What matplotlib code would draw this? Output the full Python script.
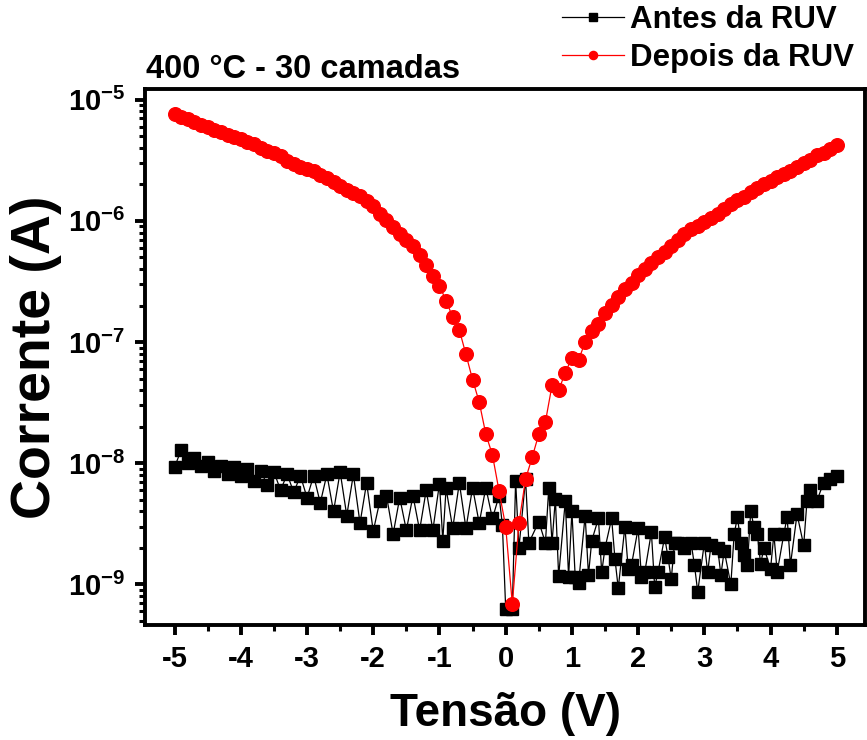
import numpy as np
import matplotlib
matplotlib.use("Agg")
import matplotlib.pyplot as plt
from matplotlib.ticker import FixedLocator, FixedFormatter, LogLocator, NullFormatter, MultipleLocator

plt.rcParams['font.family'] = ['Liberation Sans', 'DejaVu Sans']
plt.rcParams['font.weight'] = 'bold'
plt.rcParams['axes.unicode_minus'] = False
plt.rcParams['mathtext.fontset'] = 'custom'
plt.rcParams['mathtext.rm'] = 'Liberation Sans:bold'
plt.rcParams['mathtext.bf'] = 'Liberation Sans:bold'

# Depois da RUV (after UV), sweep -5 .. 5 V in 0.1 V steps
depois_v = np.round(np.linspace(-5, 5, 101), 2)
depois_i = [
    7.6e-6, 7.2e-6, 6.9e-6, 6.5e-6, 6.2e-6, 5.9e-6, 5.6e-6, 5.4e-6, 5.1e-6, 4.9e-6,
    4.7e-6, 4.5e-6, 4.3e-6, 4.0e-6, 3.8e-6, 3.6e-6, 3.4e-6, 3.1e-6, 2.95e-6, 2.8e-6,
    2.7e-6, 2.6e-6, 2.4e-6, 2.25e-6, 2.1e-6, 1.95e-6, 1.8e-6, 1.7e-6, 1.6e-6, 1.45e-6,
    1.32e-6, 1.15e-6, 1.02e-6, 8.9e-7, 7.8e-7, 6.9e-7, 6.2e-7, 5.2e-7, 4.3e-7, 3.5e-7,
    2.9e-7, 2.2e-7, 1.6e-7, 1.26e-7, 7.9e-8, 4.9e-8, 3.2e-8, 1.74e-8, 1.17e-8, 5.9e-9,
    3.0e-9, 6.9e-10, 3.2e-9, 7.4e-9, 1.12e-8, 1.74e-8, 2.2e-8, 4.4e-8, 4.0e-8, 5.6e-8,
    7.4e-8, 7.1e-8, 1.0e-7, 1.23e-7, 1.41e-7, 1.74e-7, 2.04e-7, 2.34e-7, 2.75e-7, 3.1e-7,
    3.55e-7, 4.0e-7, 4.5e-7, 5.0e-7, 5.5e-7, 6.2e-7, 6.9e-7, 7.8e-7, 8.5e-7, 9.1e-7,
    9.8e-7, 1.05e-6, 1.15e-6, 1.26e-6, 1.38e-6, 1.48e-6, 1.58e-6, 1.74e-6, 1.86e-6, 2.0e-6,
    2.14e-6, 2.3e-6, 2.45e-6, 2.6e-6, 2.8e-6, 3.0e-6, 3.2e-6, 3.5e-6, 3.6e-6, 3.9e-6,
    4.2e-6,
]

# Antes da RUV (before UV), noisy dark current
antes_v = [
    -5.0, -4.9, -4.8, -4.7, -4.6, -4.5, -4.4, -4.3, -4.2, -4.1,
    -4.0, -3.9, -3.8, -3.7, -3.6, -3.5, -3.4, -3.3, -3.2, -3.1,
    -3.0, -2.9, -2.8, -2.7, -2.6, -2.5, -2.4, -2.3, -2.2, -2.1,
    -2.0, -1.9, -1.8, -1.7, -1.6, -1.5, -1.4, -1.3, -1.2, -1.1,
    -1.0, -0.95, -0.9, -0.8, -0.7, -0.6, -0.5, -0.4, -0.3, -0.2,
    -0.1, -0.05, 0.0, 0.1, 0.15, 0.2, 0.3, 0.35, 0.5, 0.6,
    0.65, 0.7, 0.75, 0.8, 0.9, 0.95, 1.0, 1.05, 1.1, 1.2,
    1.25, 1.3, 1.4, 1.45, 1.5, 1.6, 1.65, 1.7, 1.8, 1.85,
    1.9, 2.0, 2.05, 2.1, 2.2, 2.25, 2.3, 2.4, 2.45, 2.5,
    2.55, 2.6, 2.7, 2.8, 2.85, 2.9, 3.0, 3.05, 3.1, 3.2,
    3.25, 3.3, 3.4, 3.45, 3.5, 3.55, 3.6, 3.65, 3.7, 3.75,
    3.8, 3.85, 3.9, 4.0, 4.05, 4.1, 4.2, 4.25, 4.3, 4.4,
    4.5, 4.55, 4.6, 4.7, 4.8, 4.9, 5.0,
]
antes_i = [
    9.3e-9, 1.29e-8, 1.0e-8, 1.1e-8, 9.5e-9, 1.02e-8, 8.7e-9, 9.5e-9, 8.1e-9, 9.3e-9,
    7.8e-9, 8.9e-9, 7.2e-9, 8.7e-9, 6.6e-9, 8.5e-9, 6.0e-9, 8.1e-9, 5.75e-9, 7.9e-9,
    5.2e-9, 7.9e-9, 4.7e-9, 8.1e-9, 4.0e-9, 8.5e-9, 3.7e-9, 8.1e-9, 3.2e-9, 6.9e-9,
    2.75e-9, 4.9e-9, 5.4e-9, 2.6e-9, 5.2e-9, 2.8e-9, 5.4e-9, 2.8e-9, 6.0e-9, 2.8e-9,
    6.8e-9, 2.3e-9, 6.2e-9, 2.9e-9, 6.9e-9, 2.9e-9, 6.3e-9, 3.2e-9, 6.3e-9, 3.5e-9,
    5.4e-9, 3.1e-9, 6.3e-10, 6.3e-10, 7.2e-9, 2.0e-9, 7.4e-9, 2.2e-9, 3.3e-9, 2.2e-9,
    6.2e-9, 2.2e-9, 5.1e-9, 1.17e-9, 4.9e-9, 1.15e-9, 4.0e-9, 1.15e-9, 1.02e-9, 3.7e-9,
    1.2e-9, 2.3e-9, 3.5e-9, 1.26e-9, 2.0e-9, 3.5e-9, 1.62e-9, 9.3e-10, 3.0e-9, 1.35e-9,
    1.45e-9, 2.9e-9, 1.15e-9, 1.26e-9, 2.7e-9, 9.5e-10, 1.26e-9, 2.45e-9, 1.7e-9, 1.1e-9,
    2.2e-9, 2.2e-9, 2.0e-9, 2.2e-9, 1.45e-9, 8.7e-10, 2.2e-9, 1.26e-9, 2.1e-9, 2.0e-9,
    1.2e-9, 1.9e-9, 1.0e-9, 2.6e-9, 3.6e-9, 2.2e-9, 1.74e-9, 1.45e-9, 4.0e-9, 3.0e-9,
    2.6e-9, 1.48e-9, 2.0e-9, 1.35e-9, 2.6e-9, 1.26e-9, 2.6e-9, 3.6e-9, 1.45e-9, 3.8e-9,
    2.1e-9, 4.9e-9, 6.0e-9, 4.9e-9, 6.9e-9, 7.4e-9, 7.8e-9,
]

y_ticks = [1e-9, 1e-8, 1e-7, 1e-6, 1e-5]
y_tick_labels = [r'$\mathbf{10^{-9}}$', r'$\mathbf{10^{-8}}$', r'$\mathbf{10^{-7}}$',
                 r'$\mathbf{10^{-6}}$', r'$\mathbf{10^{-5}}$']
x_ticks = [-5, -4, -3, -2, -1, 0, 1, 2, 3, 4, 5]

fig = plt.figure(figsize=(8.67, 7.40), dpi=100)
ax = fig.add_axes([0.167, 0.155, 0.831, 0.725])

ax.plot(antes_v, antes_i, '-', color='black', lw=0.9, marker='s', ms=8.5,
        mec='black', mfc='black', label='Antes da RUV', zorder=2)
ax.plot(depois_v, depois_i, '-', color='red', lw=0.9, marker='o', ms=9.8,
        mec='red', mfc='red', label='Depois da RUV', zorder=3)

ax.set_yscale('log')
ax.set_xlim(-5.45, 5.43)
ax.set_ylim(4.6e-10, 1.23e-5)

ax.yaxis.set_major_locator(FixedLocator(y_ticks))
ax.yaxis.set_major_formatter(FixedFormatter(y_tick_labels))
ax.yaxis.set_minor_locator(LogLocator(base=10, subs=np.arange(2, 10)))
ax.yaxis.set_minor_formatter(NullFormatter())
ax.xaxis.set_major_locator(FixedLocator(x_ticks))
ax.xaxis.set_minor_locator(MultipleLocator(0.5))

for s in ax.spines.values():
    s.set_linewidth(2.8)
ax.tick_params(which='major', direction='out', length=7, width=2.8, labelsize=21, pad=7)
ax.tick_params(which='minor', direction='out', length=4, width=2.2)
ax.tick_params(top=False, right=False)
for lbl in ax.get_xticklabels():
    lbl.set_fontweight('bold')

ax.set_xlabel('Tensão (V)', fontsize=33, fontweight='bold', labelpad=14)
ax.set_ylabel('Corrente (A)', fontsize=40, fontweight='bold', labelpad=4)

fig.text(0.168, 0.906, '400 °C - 30 camadas', fontsize=23.5, fontweight='bold',
         ha='left', va='center')

leg = fig.legend(loc='upper right', bbox_to_anchor=(1.0, 1.01), frameon=False,
                 fontsize=22.5, handlelength=2.0, handletextpad=0.2, labelspacing=0.25,
                 markerscale=0.6, borderaxespad=0.0)
for t in leg.get_texts():
    t.set_fontweight('bold')

fig.savefig('out.png', dpi=100)
